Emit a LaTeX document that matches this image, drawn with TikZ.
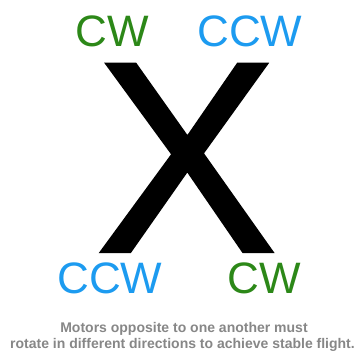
\documentclass[tikz,border=0pt]{standalone}
\usepackage{fontspec}
\setmainfont{Liberation Sans}
\newfontfamily\xglyph[FakeBold=1.2]{Liberation Sans}
\definecolor{cwgreen}{RGB}{44,136,24}
\definecolor{ccwblue}{RGB}{28,155,240}
\definecolor{capgray}{RGB}{135,135,135}
\begin{document}
\begin{tikzpicture}[x=1pt,y=-1pt,
  lbl/.style={inner sep=0pt,anchor=base,font=\fontsize{44}{44}\selectfont},
  captext/.style={inner sep=0pt,anchor=base,text=capgray,font=\bfseries\fontsize{14}{14}\selectfont}]
\useasboundingbox[fill=white] (0,0) rectangle (357,351);
\node[inner sep=0pt,anchor=base,font=\xglyph\fontsize{272}{272}\selectfont] (x) at (186.5,251.5) {X};
\node[lbl,text=cwgreen] (tl) at (112.5,46) {CW};
\node[lbl,text=ccwblue] (tr) at (250,46) {CCW};
\node[lbl,text=ccwblue] (bl) at (110,293) {CCW};
\node[lbl,text=cwgreen] (br) at (264,293) {CW};
\node[captext] (c1) at (184,332) {Motors opposite to one another must};
\node[captext] (c2) at (182.5,348) {rotate in different directions to achieve stable flight.};
\end{tikzpicture}
\end{document}
